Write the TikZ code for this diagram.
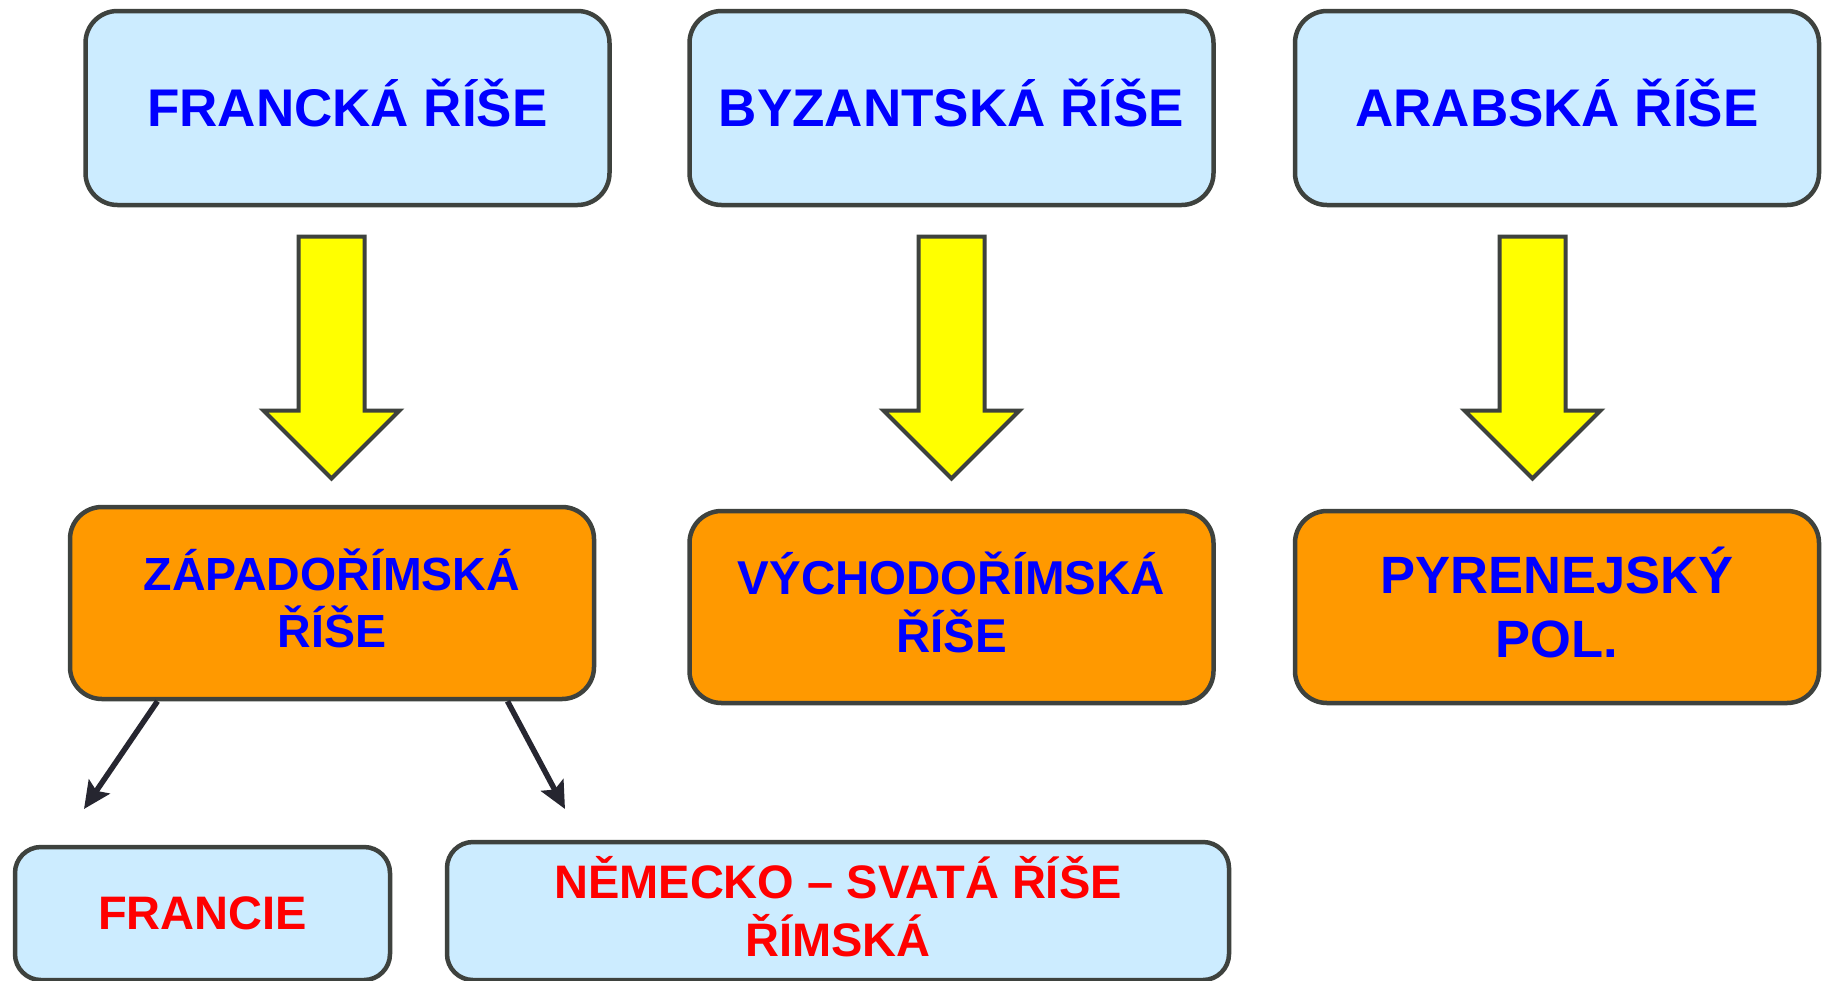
\documentclass[tikz,border=0pt]{standalone}
\usepackage{fontspec}
\setmainfont{Liberation Sans}
\usetikzlibrary{arrows.meta}
\definecolor{boxblue}{RGB}{204,236,255}
\definecolor{boxorange}{RGB}{255,153,0}
\definecolor{arrowyellow}{RGB}{255,255,0}
\definecolor{edgegray}{RGB}{62,66,62}
\definecolor{textblue}{RGB}{0,0,255}
\definecolor{textred}{RGB}{255,0,0}
\definecolor{linkdark}{RGB}{38,38,48}
\newcommand\capline[1]{\smash{#1}\vphantom{E}}
\tikzset{
  box/.style={draw=edgegray, line width=4.5pt, rounded corners=32pt, align=center,
    inner sep=0pt, font=\bfseries},
  topbox/.style={box, fill=boxblue, text=textblue, minimum width=524pt, minimum height=194pt,
    font=\bfseries\fontsize{53}{60}\selectfont},
  midbox/.style={box, fill=boxorange, text=textblue, minimum width=524pt, minimum height=192pt},
  lowbox/.style={box, fill=boxblue, text=textred, rounded corners=26pt,
    font=\bfseries\fontsize{47}{58}\selectfont},
  bigarrow/.style={draw=edgegray, line width=4pt, fill=arrowyellow, line join=miter},
  link/.style={draw=linkdark, line width=5.5pt,
    -{Stealth[length=27pt, width=25pt, inset=5pt]}},
  blockarrow/.pic={
    \path[bigarrow] (-33,0) -- (33,0) -- (33,174) -- (68,174) -- (0,242)
      -- (-68,174) -- (-33,174) -- cycle;
  }
}
\begin{document}
\begin{tikzpicture}[x=1pt, y=-1pt]
\useasboundingbox[fill=white] (0,0) rectangle (1830,980);

% top row
\node[topbox] (fr) at (347.5,108) {\capline{FRANCKÁ ŘÍŠE}};
\node[topbox] (by) at (951.5,108) {\capline{BYZANTSKÁ ŘÍŠE}};
\node[topbox] (ar) at (1557,108) {\capline{ARABSKÁ ŘÍŠE}};

% big yellow arrows
\pic at (331.5,236.5) {blockarrow};
\pic at (951.5,236.5) {blockarrow};
\pic at (1532.5,236.5) {blockarrow};

% middle row
\node[midbox, font=\bfseries\fontsize{46.5}{57}\selectfont] (zr) at (332,603) {\capline{ZÁPADOŘÍMSKÁ}\\\capline{ŘÍŠE}};
\node[midbox, font=\bfseries\fontsize{47.5}{58}\selectfont] (vr) at (951.5,607) {\capline{VÝCHODOŘÍMSKÁ}\\\capline{ŘÍŠE}};
\node[midbox, font=\bfseries\fontsize{52.5}{64}\selectfont] (py) at (1557,607) {\capline{PYRENEJSKÝ}\\\capline{POL.}};

% bottom row
\node[lowbox, minimum width=375pt, minimum height=133pt] (fc) at (202.5,913.5) {\capline{FRANCIE}};
\node[lowbox, minimum width=782pt, minimum height=138pt] (nm) at (838,911) {\capline{NĚMECKO – SVATÁ ŘÍŠE}\\\capline{ŘÍMSKÁ}};

% links
\coordinate (t1) at (84,809);
\coordinate (t2) at (565,809);
\draw[link] ([xshift=-174.5pt]zr.south) -- (t1);
\draw[link] ([xshift=175.5pt]zr.south) -- (t2);
\end{tikzpicture}
\end{document}
